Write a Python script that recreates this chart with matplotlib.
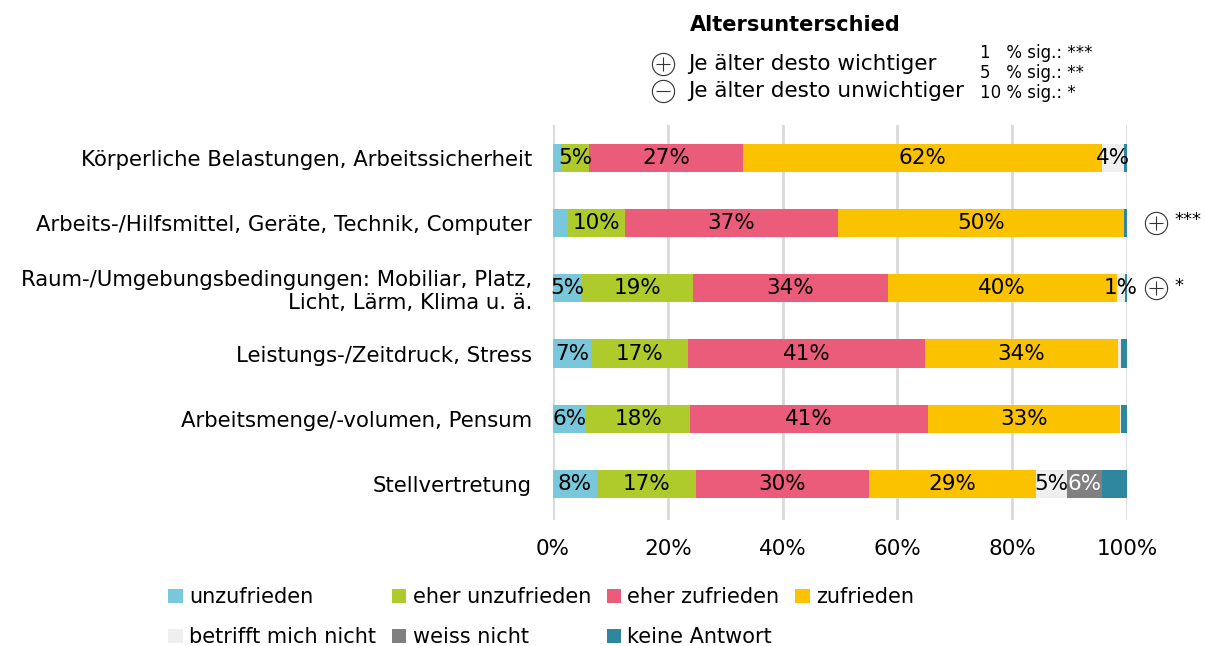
import numpy as np
import matplotlib.pyplot as plt
from matplotlib.ticker import PercentFormatter

categories = [
    'Körperliche Belastungen, Arbeitssicherheit',
    'Arbeits-/Hilfsmittel, Geräte, Technik, Computer',
    'Raum-/Umgebungsbedingungen: Mobiliar, Platz,\nLicht, Lärm, Klima u. ä.',
    'Leistungs-/Zeitdruck, Stress',
    'Arbeitsmenge/-volumen, Pensum',
    'Stellvertretung',
]
series_names = ['unzufrieden', 'eher unzufrieden', 'eher zufrieden', 'zufrieden',
                'betrifft mich nicht', 'weiss nicht', 'keine Antwort']
colors = ['#78C7DA', '#AFCA2B', '#EB5B7A', '#FBC200', '#EFEFEF', '#808080', '#2E879E']

unzufrieden = [1.5, 2.6, 5.0, 6.6, 5.8, 7.6]
eher_unzufrieden = [4.8, 10.0, 19.4, 16.9, 18.1, 17.3]
eher_zufrieden = [26.8, 37.0, 33.9, 41.3, 41.4, 30.2]
zufrieden = [62.5, 49.9, 39.9, 33.7, 33.4, 29.0]
betrifft_nicht = [3.9, 0.0, 1.4, 0.4, 0.3, 5.4]
weiss_nicht = [0.0, 0.0, 0.0, 0.0, 0.0, 6.1]
keine_antwort = [0.5, 0.5, 0.4, 1.1, 1.0, 4.4]

# extra small labels that are shown anyway (row, series)
extra_labels = [(0, 4), (2, 4)]
# age difference markers: row -> (sign, stars)
age_marks = {1: ('+', '***'), 2: ('+', '*')}

values = np.array([unzufrieden, eher_unzufrieden, eher_zufrieden, zufrieden,
                   betrifft_nicht, weiss_nicht, keine_antwort])

plt.rcParams['font.family'] = ['DejaVu Sans']
fig = plt.figure(figsize=(12.06, 6.46), dpi=100)
ax = fig.add_axes([0.4585, 0.195, 0.476, 0.6115])

y = np.arange(len(categories))
left = np.zeros(len(categories))
handles = []
for i, (name, col) in enumerate(zip(series_names, colors)):
    h = ax.barh(y, values[i], left=left, height=0.43, color=col, label=name, zorder=3)
    handles.append(h)
    for r in range(len(categories)):
        v = values[i][r]
        if v >= 4.5 or (r, i) in extra_labels:
            tc = 'white' if col == '#808080' else 'black'
            ax.text(left[r] + v / 2, r, '%d%%' % round(v), ha='center', va='center',
                    fontsize=15.5, color=tc, zorder=4)
    left += values[i]

for r, (sign, stars) in age_marks.items():
    ax.plot(105, r, 'o', ms=16, mfc='white', mec='#333333', mew=0.8, clip_on=False, zorder=5)
    ax.plot(105, r, sign == '+' and '+' or '_', ms=10, mec='#333333', mew=0.8, clip_on=False, zorder=6)
    ax.text(108.3, r - 0.04, stars, ha='left', va='center', fontsize=13)

ax.set_xlim(0, 100)
ax.set_ylim(5.55, -0.5)
ax.set_yticks(y)
ax.set_yticklabels(categories, fontsize=15.3, ha='right', multialignment='right')
ax.set_xticks(np.arange(0, 101, 20))
ax.xaxis.set_major_formatter(PercentFormatter(decimals=0))
ax.tick_params(axis='x', labelsize=15.5, length=0, pad=14)
ax.tick_params(axis='y', length=0, pad=15)
ax.grid(axis='x', color='#d9d9d9', lw=2, zorder=0)
for s in ax.spines.values():
    s.set_visible(False)

# age difference key at the top
fig.text(795 / 1206, 1 - 25 / 646, 'Altersunterschied', ha='center', va='center',
         fontsize=15, fontweight='bold')
fig.text(688 / 1206, 1 - 64 / 646, 'Je älter desto wichtiger', ha='left', va='center', fontsize=15.5)
fig.text(688 / 1206, 1 - 91 / 646, 'Je älter desto unwichtiger', ha='left', va='center', fontsize=15.5)
for yy, mk in [(64, '+'), (91, '_')]:
    fig.lines.append(plt.Line2D([663 / 1206], [1 - yy / 646], marker='o', ms=16, mfc='white',
                                mec='#333333', mew=0.8, transform=fig.transFigure))
    fig.lines.append(plt.Line2D([663 / 1206], [1 - yy / 646], marker=mk, ms=10,
                                mec='#333333', mew=0.8, transform=fig.transFigure))
for yy, txt in [(53, '1   % sig.: ***'), (73, '5   % sig.: **'), (93, '10 % sig.: *')]:
    fig.text(980 / 1206, 1 - yy / 646, txt, ha='left', va='center', fontsize=12)

order = [0, 4, 1, 5, 2, 6, 3]
fig.legend([handles[k] for k in order], [series_names[k] for k in order], ncol=4,
           loc='upper left', bbox_to_anchor=(160 / 1206, 1 - 579 / 646), frameon=False,
           fontsize=15, handlelength=0.7, handleheight=0.7, handletextpad=0.3,
           columnspacing=0.75, labelspacing=0.95, borderaxespad=0)

fig.savefig('out.png', dpi=100)
